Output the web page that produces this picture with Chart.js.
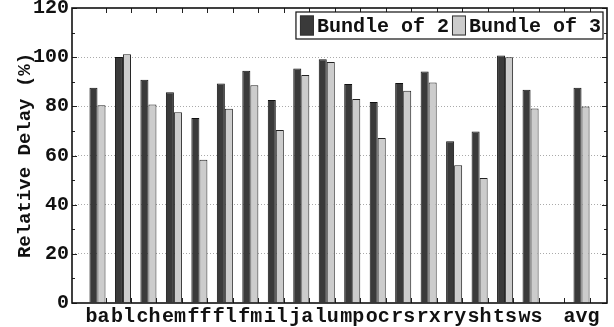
<!DOCTYPE html>
<html><head><meta charset="utf-8">
<style>html,body{margin:0;padding:0;background:#fff}#wrap{width:614px;height:327px}</style>
<script src="https://cdn.jsdelivr.net/npm/chart.js@4.4.1/dist/chart.umd.min.js"></script>
</head><body><div id="wrap"><canvas id="c" width="614" height="327"></canvas></div>
<script>
const benchmarks = ['ba','bl','ch','em','ff','fl','fm','il','ja','lu','mp','oc','rs','rx','ry','sh','ts','ws'];
const bundle2 = [87.6,100.1,90.8,85.7,75.3,89.3,94.5,82.6,95.4,99.2,89.1,81.8,89.5,94.2,65.8,69.8,100.7,86.7];
const bundle3 = [80.4,101.2,80.7,77.6,58.3,79.0,88.6,70.4,92.7,98.0,83.0,67.1,86.3,89.7,56.0,50.8,100.0,79.1];
const avgLabel = 'avg';
const avgBundle2 = 87.6;
const avgBundle3 = 79.9;
const seriesNames = ['Bundle of 2','Bundle of 3'];
const yMin = 0, yMax = 120, yStep = 20, yMinorStep = 10;

const labels = ['', ...benchmarks, '', avgLabel, ''];
const d2 = [null, ...bundle2, null, avgBundle2, null];
const d3 = [null, ...bundle3, null, avgBundle3, null];

const FONT = 'Liberation Mono';
const CAT_PCT = 0.63;

const framePlugin = {
  id: 'frame',
  afterDatasetsDraw(chart) {
    const {ctx, chartArea: a, scales: {x, y}} = chart;
    ctx.save();
    ctx.strokeStyle = '#222';
    ctx.lineWidth = 1;
    for (let v = yMin; v <= yMax; v += yMinorStep) {
      const py = Math.round(y.getPixelForValue(v)) + 0.5;
      const len = (v % yStep === 0) ? 5 : 3;
      ctx.beginPath();
      ctx.moveTo(a.left, py); ctx.lineTo(a.left + len, py);
      ctx.moveTo(a.right, py); ctx.lineTo(a.right - len, py);
      ctx.stroke();
    }
    const sp = x.getPixelForValue(1) - x.getPixelForValue(0);
    for (let i = 1; i < labels.length - 1; i++) {
      const px = Math.round(x.getPixelForValue(i) + sp * CAT_PCT / 2) + 0.5;
      ctx.beginPath();
      ctx.moveTo(px, a.top); ctx.lineTo(px, a.top + 5);
      ctx.moveTo(px, a.bottom); ctx.lineTo(px, a.bottom - 5);
      ctx.stroke();
    }
    ctx.lineWidth = 1.6;
    ctx.strokeStyle = '#111';
    ctx.strokeRect(a.left, a.top, a.right - a.left, a.bottom - a.top);
    ctx.restore();
  },
  afterDraw(chart) {
    const {ctx, chartArea: a} = chart;
    const ds = chart.data.datasets;
    ctx.save();
    ctx.font = 'bold 20px "' + FONT + '"';
    ctx.textBaseline = 'middle';
    const sw = 14, sh = 20, gapS = 3, gapItem = 3, pad = 4, h = 27;
    let total = pad;
    const widths = ds.map(d => ctx.measureText(d.label).width);
    widths.forEach((w, i) => { total += sw + gapS + w + (i < widths.length - 1 ? gapItem : 2); });
    const right = a.right - 4, top = a.top + 4;
    const left = right - total;
    ctx.fillStyle = '#fff';
    ctx.fillRect(left, top, total, h);
    ctx.strokeStyle = '#111';
    ctx.lineWidth = 1.2;
    ctx.strokeRect(left, top, total, h);
    let cx = left + pad;
    const cy = top + h / 2;
    ds.forEach((d, i) => {
      ctx.fillStyle = d.backgroundColor;
      ctx.fillRect(cx, cy - sh / 2, sw, sh);
      ctx.strokeStyle = '#333';
      ctx.lineWidth = 1;
      ctx.strokeRect(cx + 0.5, cy - sh / 2 + 0.5, sw - 1, sh - 1);
      cx += sw + gapS;
      ctx.fillStyle = '#111';
      ctx.fillText(d.label, cx, cy + 1);
      cx += widths[i] + gapItem;
    });
    ctx.restore();
  }
};

new Chart(document.getElementById('c'), {
  type: 'bar',
  data: {
    labels,
    datasets: [
      {label: seriesNames[0], data: d2, backgroundColor: '#3a3a3a', borderColor: '#111', borderWidth: 1},
      {label: seriesNames[1], data: d3, backgroundColor: '#cccccc', borderColor: '#222', borderWidth: 1}
    ]
  },
  options: {
    responsive: false,
    devicePixelRatio: 1,
    animation: false,
    layout: {padding: {left: 0, right: 7, top: 8, bottom: 0}},
    datasets: {bar: {categoryPercentage: CAT_PCT, barPercentage: 1.0}},
    plugins: {legend: {display: false}, tooltip: {enabled: false}},
    scales: {
      x: {
        offset: false,
        grid: {display: false, drawTicks: false},
        border: {display: false},
        ticks: {autoSkip: false, maxRotation: 0, padding: 2, color: '#111',
          font: {family: FONT, weight: 'bold', size: 20}},
        afterFit(s) { s.height = 24; s.paddingLeft = 0; s.paddingRight = 0; }
      },
      y: {
        min: yMin, max: yMax,
        border: {display: false, dash: [1, 2]},
        grid: {
          drawTicks: false,
          color: ctx => (ctx.tick && (ctx.tick.value === yMin || ctx.tick.value === yMax)) ? 'rgba(0,0,0,0)' : '#aaa',
          lineWidth: 1
        },
        ticks: {stepSize: yStep, padding: 3, color: '#111',
          font: {family: FONT, weight: 'bold', size: 20}},
        title: {display: true, text: 'Relative Delay (%)', color: '#111',
          font: {family: FONT, weight: 'bold', size: 19}, padding: {top: 14, bottom: 0}},
        afterFit(s) { s.width = 72; s.paddingTop = 0; s.paddingBottom = 0; }
      }
    }
  },
  plugins: [framePlugin]
});
</script></body></html>
